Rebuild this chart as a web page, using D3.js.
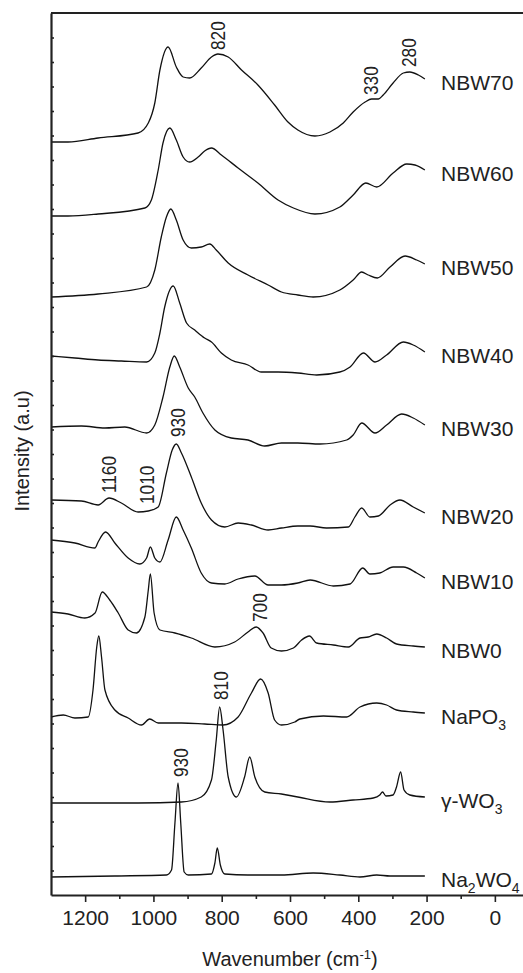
<!DOCTYPE html>
<html>
<head>
<meta charset="utf-8">
<script src="https://cdn.jsdelivr.net/npm/d3@7"></script>
<style>
  body { margin: 0; background: #fff; }
  text { font-family: "Liberation Sans", Arial, sans-serif; fill: #222; }
</style>
</head>
<body>
<div id="chart"></div>
<script>
// Raman spectra, [wavenumber cm-1, intensity a.u. above the spectrum's own baseline]
const nbw70 = [[1300,0],[1250,0],[1162,4],[1045,9],[1015,19],[996,39],[981,72],[957,95],[933,75],[913,65],[894,64],[860,74],[830,85],[811,88],[781,85],[742,72],[694,57],[645,37],[606,20],[577,12],[527,6],[483,10],[444,19],[415,30],[380,40],[361,43],[341,43],[327,47],[298,59],[268,69],[249,70],[224,67],[205,63]];
const nbw60 = [[1300,0],[1250,0],[1162,2],[1025,8],[1006,16],[986,46],[972,73],[952,88],[933,76],[913,59],[894,54],[869,59],[850,65],[830,68],[801,61],[752,48],[694,33],[635,16],[590,8],[527,2],[454,9],[415,21],[378,33],[346,29],[298,43],[258,52],[234,51],[205,46]];
const nbw50 = [[1300,0],[1162,3],[1020,10],[996,27],[977,60],[962,80],[949,88],[933,77],[913,57],[889,49],[860,50],[835,53],[816,47],[781,34],[723,22],[664,12],[625,5],[577,2],[532,0],[454,7],[415,17],[390,25],[371,22],[344,19],[307,30],[263,41],[229,37],[205,33]];
const nbw40 = [[1300,0],[1230,-2],[1162,-4],[1094,-5],[1020,-6],[996,3],[981,23],[967,49],[942,70],[923,53],[903,33],[879,26],[850,18],[830,14],[801,3],[772,-4],[723,-9],[684,-16],[635,-16],[577,-17],[522,-19],[454,-16],[424,-11],[385,3],[351,-6],[317,1],[268,14],[239,11],[205,4]];
const nbw30 = [[1300,0],[1211,1],[1142,-1],[1084,0],[1020,-6],[996,2],[972,30],[952,60],[939,71],[923,60],[898,39],[879,30],[855,14],[820,-3],[772,-11],[723,-13],[674,-19],[625,-16],[577,-16],[512,-17],[434,-13],[415,-8],[390,4],[351,-6],[317,2],[273,13],[239,9],[205,2]];
const nbw20 = [[1300,0],[1211,-1],[1162,-5],[1130,2],[1094,-3],[1045,-12],[1015,-11],[986,-7],[962,27],[945,50],[933,56],[918,47],[889,23],[860,-3],[830,-20],[791,-27],[752,-23],[713,-25],[664,-30],[625,-28],[577,-26],[541,-26],[493,-28],[429,-27],[410,-17],[390,-8],[366,-17],[341,-16],[307,-5],[278,0],[239,-7],[205,-13]];
const nbw10 = [[1300,0],[1230,-3],[1171,-8],[1162,-2],[1140,8],[1113,-3],[1074,-18],[1040,-24],[1020,-18],[1009,-7],[996,-18],[981,-22],[957,0],[933,23],[913,10],[889,-8],[860,-33],[830,-43],[791,-44],[752,-39],[703,-36],[664,-45],[625,-45],[577,-43],[541,-40],[473,-46],[424,-44],[387,-28],[366,-34],[337,-33],[298,-27],[268,-27],[229,-33],[205,-38]];
const nbw0 = [[1300,0],[1250,-2],[1201,-6],[1171,-1],[1150,20],[1128,12],[1103,-1],[1074,-18],[1050,-21],[1025,-5],[1015,22],[1009,38],[998,-1],[981,-18],[937,-21],[889,-26],[820,-35],[762,-30],[723,-20],[699,-15],[679,-21],[655,-36],[625,-39],[590,-36],[566,-28],[543,-24],[522,-31],[473,-33],[429,-35],[395,-26],[371,-25],[346,-22],[317,-26],[288,-32],[239,-34],[205,-35]];
const napo3 = [[1300,0],[1264,2],[1230,-1],[1191,0],[1177,27],[1166,70],[1160,81],[1152,60],[1142,27],[1113,7],[1074,-1],[1035,-8],[1011,-2],[986,-6],[918,-6],[850,-7],[796,-8],[752,0],[713,24],[686,38],[664,24],[645,-3],[625,-8],[586,-5],[571,-2],[502,1],[434,0],[395,10],[346,14],[317,12],[288,7],[239,5],[205,4]];
const wo3 = [[1300,0],[1045,0],[918,1],[860,6],[830,23],[816,63],[806,96],[796,73],[781,26],[757,6],[733,26],[718,46],[703,26],[674,11],[625,9],[577,6],[483,1],[415,3],[356,5],[337,8],[329,11],[319,7],[298,8],[288,16],[276,31],[266,13],[249,8],[205,6]];
const na2wo4 = [[1300,0],[1113,1],[962,2],[947,7],[937,54],[928,94],[920,54],[910,5],[898,2],[830,3],[820,14],[813,29],[804,12],[791,3],[723,2],[625,2],[532,4],[454,2],[395,0],[346,2],[307,1],[205,1]];

const spectra = [nbw70, nbw60, nbw50, nbw40, nbw30, nbw20, nbw10, nbw0, napo3, wo3, na2wo4];
const offsets = [753, 679, 598, 539, 468, 395, 355, 283, 178, 92, 18];
// label pieces, second element marks a subscript
const labels = [
  [["NBW70"]], [["NBW60"]], [["NBW50"]], [["NBW40"]], [["NBW30"]], [["NBW20"]],
  [["NBW10"]], [["NBW0"]], [["NaPO"], ["3", 1]], [["γ-WO"], ["3", 1]],
  [["Na"], ["2", 1], ["WO"], ["4", 1]]
];
// peak annotations: text, wavenumber, intensity where the text starts
const peakText = ["820", "330", "280", "930", "1160", "1010", "700", "810", "930"];
const peakPos = [812, 363, 252, 931, 1131, 1020, 690, 803, 920];
const peakY = [845, 800, 828, 458, 402, 391, 273, 195, 118];

const xMajor = [1200, 1000, 800, 600, 400, 200, 0];
const xMinor = [1100, 900, 700, 500, 300, 100];

const width = 523, height = 973;

const svg = d3.select("#chart")
  .append("svg")
  .attr("width", width)
  .attr("height", height);

const x = d3.scaleLinear().domain([1300, -100]).range([51, 529]);
const y = d3.scaleLinear().domain([0, 882]).range([895, 13]);

// spectra
const line = d3.line()
  .x(d => x(d[0]))
  .y(d => y(d[1]))
  .curve(d3.curveMonotoneX);

spectra.forEach((s, i) => {
  svg.append("path")
    .datum(s.map(d => [d[0], d[1] + offsets[i]]))
    .attr("fill", "none")
    .attr("stroke", "#111")
    .attr("stroke-width", 1.3)
    .attr("stroke-linejoin", "round")
    .attr("d", line);

  const last = s[s.length - 1];
  const t = svg.append("text")
    .attr("x", 441)
    .attr("y", y(last[1] + offsets[i]) + 3)
    .attr("dy", "0.36em")
    .style("font-size", "21px");
  labels[i].forEach(p => {
    if (p[1]) {
      t.append("tspan").attr("dy", 6).style("font-size", "14px").text(p[0]);
    } else {
      const sp = t.append("tspan").text(p[0]);
      if (t.selectAll("tspan").size() > 1) sp.attr("dy", -6);
    }
  });
});

// peak labels
peakText.forEach((txt, i) => {
  svg.append("text")
    .attr("transform", `translate(${x(peakPos[i])},${y(peakY[i])}) rotate(-90) scale(0.82,1)`)
    .attr("dy", "0.36em")
    .style("font-size", "21px")
    .text(txt);
});

// axes
const xMinorAxis = svg.append("g")
  .attr("transform", `translate(0,${y(0)})`)
  .call(d3.axisBottom(x).tickValues(xMinor).tickSize(4).tickSizeOuter(0).tickFormat(""));
xMinorAxis.select(".domain").remove();

const xAxis = svg.append("g")
  .attr("transform", `translate(0,${y(0)})`)
  .call(d3.axisBottom(x).tickValues(xMajor).tickSize(7).tickSizeOuter(0).tickPadding(8).tickFormat(d3.format("d")));
xAxis.selectAll("text")
  .style("font-size", "21px")
  .style("font-family", "'Liberation Sans', Arial, sans-serif")
  .attr("fill", "#222");

const yAxis = svg.append("g")
  .attr("transform", `translate(${x(1300)},0)`)
  .call(d3.axisLeft(y).tickValues(d3.range(24.5, 882, 24.5)).tickSize(-3).tickSizeOuter(0).tickFormat(""));

svg.selectAll(".domain").attr("stroke", "#222").attr("stroke-width", 2.2);
svg.selectAll(".tick line").attr("stroke", "#222").attr("stroke-width", 1.6);

// top frame
svg.append("line")
  .attr("x1", x(1300)).attr("x2", x(-100))
  .attr("y1", y(882)).attr("y2", y(882))
  .attr("stroke", "#222")
  .attr("stroke-width", 2.2);

// axis titles
const xt = svg.append("text")
  .attr("x", (x(1300) + x(-100)) / 2)
  .attr("y", 966)
  .attr("text-anchor", "middle")
  .style("font-size", "20px");
xt.append("tspan").text("Wavenumber (cm");
xt.append("tspan").attr("dy", -7).style("font-size", "13px").text("-1");
xt.append("tspan").attr("dy", 7).text(")");

svg.append("text")
  .attr("transform", "rotate(-90)")
  .attr("x", -451)
  .attr("y", 29)
  .attr("text-anchor", "middle")
  .style("font-size", "20px")
  .text("Intensity (a.u)");
</script>
</body>
</html>
